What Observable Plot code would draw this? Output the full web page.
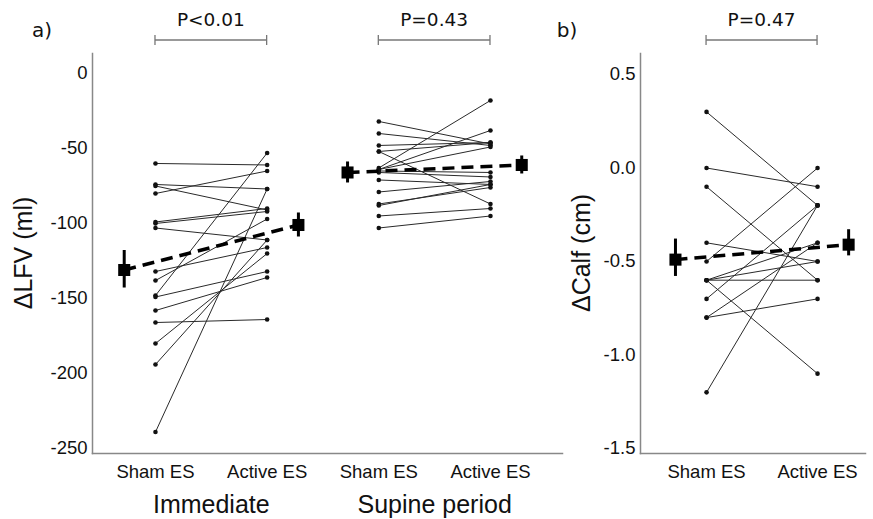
<!DOCTYPE html>
<html><head><meta charset="utf-8">
<script src="https://cdn.jsdelivr.net/npm/d3@7"></script>
<script src="https://cdn.jsdelivr.net/npm/@observablehq/plot@0.6"></script>
<style>
body{margin:0;background:#fff;}
#wrap{position:relative;width:873px;height:519px;overflow:hidden;background:#fff;}
#wrap > svg{position:absolute;top:0;}
</style></head><body><div id="wrap"></div>
<script>
// ---- data ----
const conditions = ["Sham ES", "Active ES"];
const periods = ["Immediate", "Supine period"];
const pLabelsA = ["P<0.01", "P=0.43"];
const pLabelsB = ["P=0.47"];
const lfvTicks = [0, -50, -100, -150, -200, -250];
const calfTicks = [0.5, 0.0, -0.5, -1.0, -1.5];

const immSham   = [-60, -74, -75, -80, -99, -100, -103, -132, -138, -148, -149, -158, -166, -180, -194, -239];
const immActive = [-61, -77, -91, -65, -90, -92, -111, -116, -97, -53, -132, -136, -164, -120, -111, -77];
const supSham   = [-32, -40, -48, -52, -52, -63, -64, -64, -65, -66, -71, -79, -87, -88, -95, -103];
const supActive = [-47, -48, -46, -46, -87, -18, -49, -38, -66, -69, -74, -72, -76, -74, -90, -95];
const calfSham   = [0.3, 0.0, -0.1, -0.4, -0.5, -0.6, -0.6, -0.6, -0.6, -0.7, -0.8, -0.8, -1.2];
const calfActive = [-0.2, -0.1, -0.6, -0.5, 0.0, -0.4, -0.5, -0.6, -1.1, -0.2, -0.4, -0.7, -0.2];

// mean and error bar [low, high] for Sham, Active
const immMean = [-131, -101], immLo = [-143, -109], immHi = [-118, -93];
const supMean = [-66, -61],  supLo = [-73, -67],  supHi = [-59, -55];
const calfMean = [-0.49, -0.41], calfLo = [-0.58, -0.47], calfHi = [-0.38, -0.33];

// ---- build tables ----
const OFF = 0.28;
function pairs(sham, active, xs) {
  return sham.map((v, i) => ({x1: xs, x2: xs + 1, y1: v, y2: active[i]}));
}
function dotsOf(rows) { return rows.flatMap(r => [{x: r.x1, y: r.y1}, {x: r.x2, y: r.y2}]); }
function meansOf(mean, lo, hi, xs) {
  return [{x: xs - OFF, y: mean[0], lo: lo[0], hi: hi[0]}, {x: xs + 1 + OFF, y: mean[1], lo: lo[1], hi: hi[1]}];
}
function meanLink(m) { return {x1: m[0].x, y1: m[0].y, x2: m[1].x, y2: m[1].y}; }

const rowsA = [...pairs(immSham, immActive, 1), ...pairs(supSham, supActive, 3)];
const meansA = [...meansOf(immMean, immLo, immHi, 1), ...meansOf(supMean, supLo, supHi, 3)];
const mLinksA = [meanLink(meansA.slice(0, 2)), meanLink(meansA.slice(2, 4))];
const rowsB = pairs(calfSham, calfActive, 1);
const meansB = meansOf(calfMean, calfLo, calfHi, 1);
const mLinksB = [meanLink(meansB)];

const sans = "'Liberation Sans', Arial, sans-serif";

function dataMarks(rows, means, mLinks) {
  return [
    Plot.link(rows, {x1: "x1", y1: "y1", x2: "x2", y2: "y2", stroke: "#2a2a2a", strokeWidth: 1}),
    Plot.dot(dotsOf(rows), {x: "x", y: "y", r: 2.3, fill: "#111"}),
    Plot.link(mLinks, {x1: "x1", y1: "y1", x2: "x2", y2: "y2", stroke: "#000", strokeWidth: 3.5, strokeDasharray: "12,7"}),
    Plot.ruleX(means, {x: "x", y1: "lo", y2: "hi", stroke: "#000", strokeWidth: 3}),
    Plot.dot(means, {x: "x", y: "y", symbol: "square", r: 6.8, fill: "#000"})
  ];
}

const plotA = Plot.plot({
  width: 575, height: 519,
  marginLeft: 92, marginRight: 13, marginTop: 53, marginBottom: 66,
  x: {domain: [0.436, 4.645]},
  y: {domain: [-253.3, 13.3]},
  style: {fontFamily: sans, color: "#111", background: "transparent"},
  marks: [
    Plot.frame({anchor: "left", stroke: "#888", strokeWidth: 1.5}),
    Plot.frame({anchor: "bottom", stroke: "#888", strokeWidth: 1.5}),
    Plot.axisY({ticks: lfvTicks, tickFormat: d => String(d), tickSize: 0, tickPadding: 5, label: null, fontSize: 18.5}),
    Plot.axisX({ticks: [1, 2, 3, 4], tickFormat: d => conditions[(d - 1) % 2], tickSize: 0, tickPadding: 11, label: null, fontSize: 18.5}),
    Plot.axisX([1.5, 3.5], {tickFormat: d => periods[Math.floor(d / 2)], tickSize: 0, tickPadding: 42, label: null, fontSize: 25}),
    ...dataMarks(rowsA, meansA, mLinksA)
  ]
});

const plotB = Plot.plot({
  width: 313, height: 519,
  marginLeft: 80, marginRight: 8, marginTop: 53, marginBottom: 66,
  x: {domain: [0.405, 2.432]},
  y: {domain: [-1.527, 0.6125]},
  style: {fontFamily: sans, color: "#111", background: "transparent"},
  marks: [
    Plot.frame({anchor: "left", stroke: "#888", strokeWidth: 1.5}),
    Plot.frame({anchor: "bottom", stroke: "#888", strokeWidth: 1.5}),
    Plot.axisY({ticks: calfTicks, tickFormat: d => d.toFixed(1), tickSize: 0, tickPadding: 5, label: null, fontSize: 18.5}),
    Plot.axisX({ticks: [1, 2], tickFormat: d => conditions[d - 1], tickSize: 0, tickPadding: 11, label: null, fontSize: 18.5}),
    ...dataMarks(rowsB, meansB, mLinksB)
  ]
});

const wrap = document.getElementById("wrap");
plotA.style.left = "0px";
plotB.style.left = "560px";
wrap.appendChild(plotA);
wrap.appendChild(plotB);

// annotations: panel letters, y labels, significance brackets (x via Plot scales)
function annotate(plot, letter, letterX, ylabel, ylabelX, brackets) {
  const svg = d3.select(plot);
  svg.attr("overflow", "visible");
  const sx = plot.scale("x");
  const g = svg.append("g");
  g.append("text").attr("x", letterX).attr("y", 37).attr("font-family", "'DejaVu Sans', Verdana, sans-serif")
    .attr("font-size", 20).attr("fill", "#111").text(letter);
  g.append("text").attr("transform", `translate(${ylabelX},253) rotate(-90)`).attr("text-anchor", "middle")
    .attr("font-family", sans).attr("font-size", 25).attr("fill", "#111").text(ylabel);
  for (const b of brackets) {
    const x1 = sx.apply(b.x1), x2 = sx.apply(b.x2);
    g.append("line").attr("x1", x1).attr("x2", x2).attr("y1", 40).attr("y2", 40).attr("stroke", "#777").attr("stroke-width", 1.3);
    for (const x of [x1, x2]) g.append("line").attr("x1", x).attr("x2", x).attr("y1", 35).attr("y2", 45).attr("stroke", "#777").attr("stroke-width", 1.3);
    g.append("text").attr("x", (x1 + x2) / 2).attr("y", 26).attr("text-anchor", "middle")
      .attr("font-family", "'DejaVu Sans', Verdana, sans-serif").attr("font-size", 18.5).attr("fill", "#111").text(b.label);
  }
}
annotate(plotA, "a)", 42, "\u0394LFV (ml)", 32, [{x1: 1, x2: 2, label: pLabelsA[0]}, {x1: 3, x2: 4, label: pLabelsA[1]}]);
annotate(plotB, "b)", 7, "\u0394Calf (cm)", 30, [{x1: 1, x2: 2, label: pLabelsB[0]}]);
</script>
</body></html>
